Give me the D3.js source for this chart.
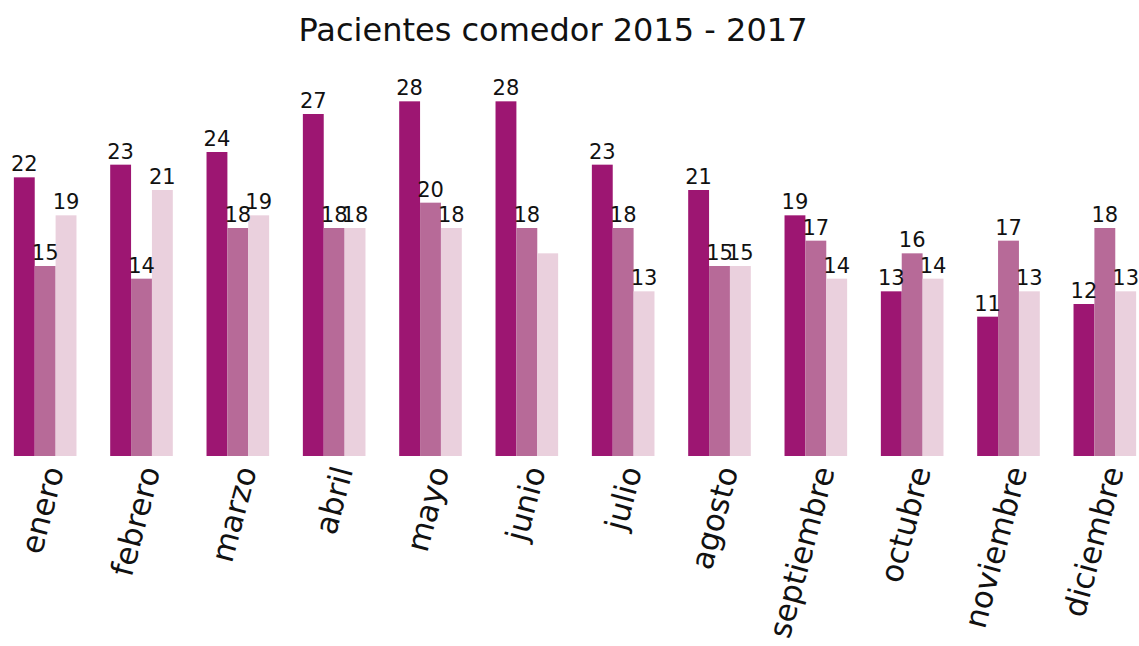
<!DOCTYPE html>
<html>
<head>
<meta charset="utf-8">
<script src="https://cdn.jsdelivr.net/npm/d3@7"></script>
<style>
  body { margin: 0; background: #fff; }
  svg { display: block; font-family: "DejaVu Sans", Verdana, sans-serif; }
</style>
</head>
<body>
<svg id="chart" width="1139" height="646"></svg>
<script>
// data
var months = ["enero", "febrero", "marzo", "abril", "mayo", "junio",
              "julio", "agosto", "septiembre", "octubre", "noviembre", "diciembre"];
var series = ["2015", "2016", "2017"];
var values2015 = [22, 23, 24, 27, 28, 28, 23, 21, 19, 13, 11, 12];
var values2016 = [15, 14, 18, 18, 20, 18, 18, 15, 17, 16, 17, 18];
var values2017 = [19, 21, 19, 18, 18, 16, 13, 15, 14, 14, 13, 13];
// labels the reference leaves out (series, month)
var hiddenLabels = [[2, 5]];

var colors = ["#9d1672", "#b76a98", "#ead0dd"];

var svg = d3.select("#chart");
var baseY = 456;

var x0 = d3.scaleBand()
    .domain(months)
    .range([-3, 1153])
    .paddingInner(0.35)
    .paddingOuter(0.175);

var x1 = d3.scaleBand()
    .domain(series)
    .range([0, x0.bandwidth()]);

var y = d3.scaleLinear()
    .domain([0, 36])
    .range([baseY, 0]);

var allValues = [values2015, values2016, values2017];
var rows = [];
months.forEach(function(m, i) {
    series.forEach(function(s, k) {
        var hidden = hiddenLabels.some(function(h) { return h[0] === k && h[1] === i; });
        rows.push({ month: m, series: s, k: k, value: allValues[k][i], hidden: hidden });
    });
});

// title
svg.append("text")
    .attr("x", 553)
    .attr("y", 41)
    .attr("text-anchor", "middle")
    .style("font-size", "32px")
    .style("fill", "#111")
    .text("Pacientes comedor 2015 - 2017");

var g = svg.append("g");

g.selectAll("rect.bar")
    .data(rows)
  .enter().append("rect")
    .attr("class", "bar")
    .attr("x", function(d) { return x0(d.month) + x1(d.series); })
    .attr("y", function(d) { return y(d.value); })
    .attr("width", x1.bandwidth())
    .attr("height", function(d) { return y(0) - y(d.value); })
    .style("fill", function(d) { return colors[d.k]; });

g.selectAll("text.val")
    .data(rows.filter(function(d) { return !d.hidden; }))
  .enter().append("text")
    .attr("class", "val")
    .attr("x", function(d) { return x0(d.month) + x1(d.series) + x1.bandwidth() / 2; })
    .attr("y", function(d) { return y(d.value) - 6; })
    .attr("text-anchor", "middle")
    .style("font-size", "21px")
    .style("fill", "#111")
    .text(function(d) { return d.value; });

// x axis labels, rotated
var xAxis = d3.axisBottom(x0).tickSize(0).tickPadding(0);
var ax = svg.append("g")
    .attr("transform", "translate(0," + baseY + ")")
    .call(xAxis);
ax.select(".domain").remove();
ax.selectAll("text")
    .style("font-size", "31px")
    .style("font-family", "DejaVu Sans, sans-serif")
    .style("fill", "#111")
    .attr("text-anchor", "end")
    .attr("y", 0)
    .attr("dy", 0)
    .attr("transform", "translate(19,14) rotate(-75)");
</script>
</body>
</html>
